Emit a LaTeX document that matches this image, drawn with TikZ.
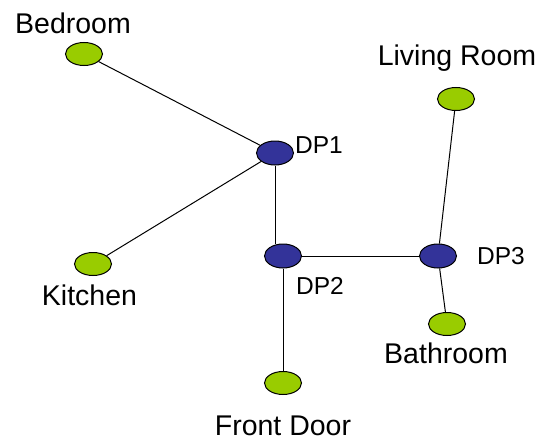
\documentclass[tikz,border=0pt]{standalone}
\usepackage{fontspec}
\setmainfont{Liberation Sans}
\usetikzlibrary{shapes.geometric}
\definecolor{roomgreen}{RGB}{153,204,0}
\definecolor{dpblue}{RGB}{51,51,153}
\tikzset{
  room/.style={ellipse,draw=black,fill=roomgreen,minimum width=37pt,minimum height=23pt,inner sep=0pt},
  dp/.style={ellipse,draw=black,fill=dpblue,minimum width=37pt,minimum height=24pt,inner sep=0pt},
  lbl/.style={anchor=base,inner sep=0pt,font=\fontsize{28.5}{32}\selectfont},
  dplbl/.style={anchor=base,inner sep=0pt,font=\fontsize{24.5}{28}\selectfont}
}
\begin{document}
\begin{tikzpicture}[x=1pt,y=-1pt,line width=1pt]
      \useasboundingbox (0,0) rectangle (544,439);
      \draw
        (84,54) node[room] (bedroom){}
        (93,264) node[room] (kitchen){}
        (456,99) node[room] (living){}
        (447,324) node[room] (bathroom){}
        (283,383) node[room] (front){}
        (275,153) node[dp] (dp1){}
        (283,256) node[dp] (dp2){}
        (438,256) node[dp] (dp3){};
      \begin{scope}[-]
        \draw (bedroom) to (dp1);
        \draw (kitchen) to (dp1);
        \draw (dp1) to (dp1 |- dp2.north);
        \draw (dp2) to (dp3);
        \draw (dp2) to (front);
        \draw (dp3) to (living);
        \draw (dp3) to (bathroom);
      \end{scope}
      \draw
        (73,34) node[lbl] (bedroomlbl){Bedroom}
        (89.5,305) node[lbl] (kitchenlbl){Kitchen}
        (457,65) node[lbl] (livinglbl){Living Room}
        (446,363) node[lbl] (bathroomlbl){Bathroom}
        (283,435) node[lbl] (frontlbl){Front Door}
        (319,153) node[dplbl] (dp1lbl){DP1}
        (320,294) node[dplbl] (dp2lbl){DP2}
        (501,264) node[dplbl] (dp3lbl){DP3};
    \end{tikzpicture}
\end{document}
